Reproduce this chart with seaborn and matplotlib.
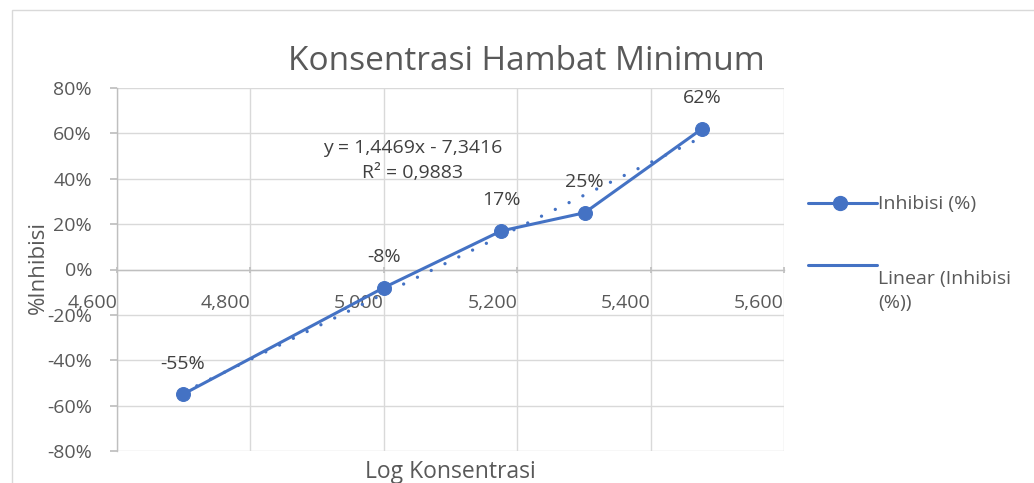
import pandas as pd
import seaborn as sns
import matplotlib.pyplot as plt
from matplotlib.lines import Line2D
from matplotlib.patches import Rectangle

# data (Excel scatter with trendline)
log_konsentrasi = [4.699, 5.000, 5.176, 5.301, 5.477]
inhibisi = [-0.55, -0.08, 0.17, 0.25, 0.62]

# trendline as printed on the chart
slope = 1.4469
intercept = -7.3416
r_squared = 0.9883

x_ticks = [4.6, 4.8, 5.0, 5.2, 5.4, 5.6]
y_ticks = [-0.8, -0.6, -0.4, -0.2, 0.0, 0.2, 0.4, 0.6, 0.8]

blue = '#4472C4'
text_grey = '#595959'
label_grey = '#404040'
grid_grey = '#D9D9D9'
axis_grey = '#BFBFBF'

W, H = 1034, 483
FS = 14


def comma(v, digits):
    return f"{v:.{digits}f}".replace('.', ',')


sns.set_theme(style='white')
plt.rcParams['font.family'] = ['Open Sans', 'DejaVu Sans']

fig = plt.figure(figsize=(W / 100, H / 100), dpi=100)
ax = fig.add_axes([117 / W, 32 / H, 667 / W, 363 / H])

df = pd.DataFrame({'x': log_konsentrasi, 'y': inhibisi})
trend = pd.DataFrame({'x': [log_konsentrasi[0], log_konsentrasi[-1]]})
trend['y'] = slope * trend['x'] + intercept

# dotted linear trendline
sns.lineplot(data=trend, x='x', y='y', ax=ax, color=blue, lw=2.4,
             linestyle=(0, (0.01, 4.6)), dash_capstyle='round', zorder=3)
# data series
sns.lineplot(data=df, x='x', y='y', ax=ax, color=blue, lw=2.2, marker='o',
             markersize=10, markeredgecolor=blue, sort=False, zorder=4)

ax.set_xlim(4.6, 5.6)
ax.set_ylim(-0.8, 0.8)
ax.set_xticks(x_ticks, labels=[comma(v, 3) for v in x_ticks])
ax.set_yticks(y_ticks, labels=[f"{v * 100:.0f}%" for v in y_ticks])
ax.set_ylabel('')

ax.grid(True, color=grid_grey, lw=1)
ax.set_axisbelow(True)
for side in ['top', 'right']:
    ax.spines[side].set_visible(False)
ax.spines['bottom'].set_position(('data', 0))
for side in ['bottom', 'left']:
    ax.spines[side].set_color(axis_grey)
    ax.spines[side].set_linewidth(1)

ax.tick_params(axis='x', length=5, direction='inout', color=axis_grey,
               labelcolor=text_grey, labelsize=FS, pad=15)
ax.tick_params(axis='y', length=5, direction='out', color=axis_grey,
               labelcolor=text_grey, labelsize=FS, pad=13)
ax.tick_params(bottom=True, left=True)
for lbl in ax.get_xticklabels():
    lbl.set_horizontalalignment('right')

# data labels
for xi, yi in zip(log_konsentrasi, inhibisi):
    ax.annotate(f"{yi * 100:.0f}%", (xi, yi), xytext=(0, 22),
                textcoords='offset points', ha='center', va='center',
                fontsize=FS, color=label_grey)

# trendline equation
eq = f"y = {comma(slope, 4)}x - {comma(abs(intercept), 4)}"
ax.text(5.043, 0.537, eq, ha='center', va='center', fontsize=FS, color=label_grey)
ax.text(5.043, 0.427, f"R² = {comma(r_squared, 4)}", ha='center', va='center',
        fontsize=FS, color=label_grey)

ax.set_xlabel('Log Konsentrasi', fontsize=16.5, color=text_grey)
ax.xaxis.set_label_coords(0.5, -0.026)
ax.xaxis.label.set_va('top')

fig.text(38 / W, 1 - 268 / H, '%Inhibisi', rotation=90, ha='center',
         va='center', fontsize=16, color=text_grey)
fig.text(526 / W, 1 - 62 / H, 'Konsentrasi Hambat Minimum', ha='center',
         va='center', fontsize=24, color=text_grey)

# legend, placed like Excel's (handle of the second entry sits at its first line)
fig.add_artist(Line2D([808 / W, 877 / W], [1 - 203 / H] * 2, color=blue, lw=2.2,
                      transform=fig.transFigure))
fig.add_artist(Line2D([840 / W], [1 - 203 / H], color=blue, marker='o',
                      markersize=10, transform=fig.transFigure))
fig.text(878 / W, 1 - 204 / H, 'Inhibisi (%)', ha='left', va='center',
         fontsize=FS, color=text_grey)
fig.add_artist(Line2D([808 / W, 877 / W], [1 - 265 / H] * 2, color=blue, lw=2.2,
                      transform=fig.transFigure))
fig.text(878 / W, 1 - 279 / H, 'Linear (Inhibisi', ha='left', va='center',
         fontsize=FS, color=text_grey)
fig.text(878 / W, 1 - 303 / H, '(%))', ha='left', va='center',
         fontsize=FS, color=text_grey)

# chart area border
fig.add_artist(Rectangle((12 / W, -0.1), 1.2, 1.1 - 10 / H,
                         transform=fig.transFigure, fill=False,
                         edgecolor=grid_grey, lw=1))

fig.savefig('out.png', dpi=100)
